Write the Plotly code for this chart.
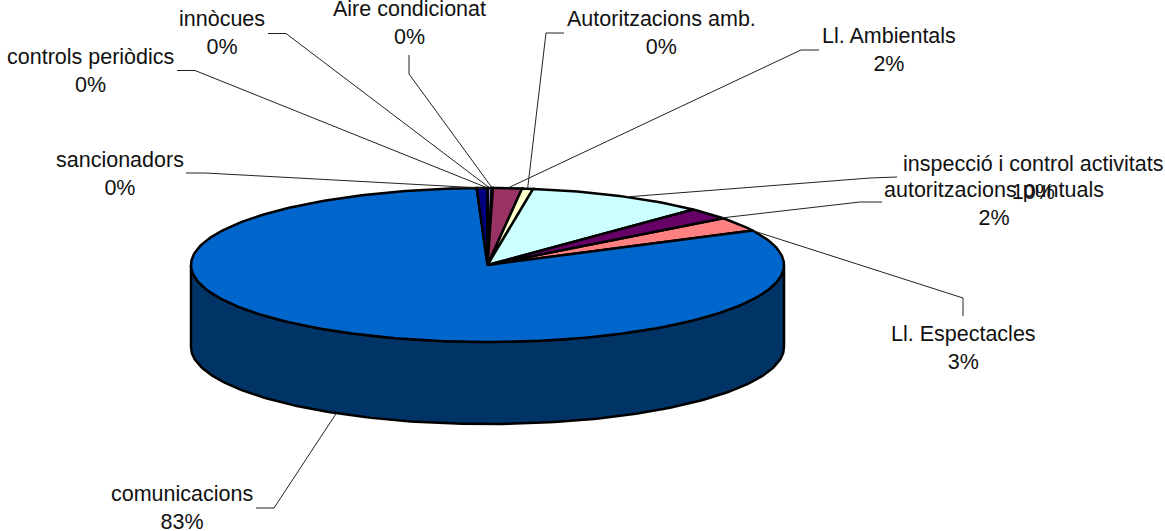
import numpy as np
import plotly.graph_objects as go

# Data (clockwise order, starting at the leading edge of "Ll. Espectacles")
categories = ["Ll. Espectacles", "comunicacions", "sancionadors", "controls periòdics", "innòcues",
              "Aire condicionat", "Ll. Ambientals", "Autoritzacions amb.",
              "inspecció i control activitats", "autoritzacions puntuals"]
values = [3.0, 81.8, 0.58, 0.02, 0.2, 0.07, 1.57, 0.6, 9.75, 2.4]
percent_labels = ["3%", "83%", "0%", "0%", "0%", "0%", "2%", "0%", "10%", "2%"]

# Style and layout
colors = ["#FF8080", "#0066CC", "#000080", "#6666CC", "#9999FF", "#3333AA",
          "#993366", "#FFFFCC", "#CCFFFF", "#660066"]
WALL = "#003366"
CX, CY, RX, RY, DEPTH = 487.5, 265, 296.5, 77, 82
ROTATION = 52.6
FONT = dict(family="Liberation Sans, Arial, sans-serif", size=21.5, color="#111111")

# label centre (x, y of first line), leader elbow points, leader anchor shift along the rim (degrees)
label_pos = [(963, 334), (182, 494), (120, 159.5), (90, 57), (222, 19),
             (409, 9), (889, 36), (661, 19), (1033, 164), (994, 190)]
leader_knee = [[(963, 316), (963, 298)], [(256, 508), (274, 508)], [(186, 173), (205, 173)],
               [(177, 70.5), (195, 70.5)], [(268, 33.5), (286, 33.5)], [(409, 55), (409, 74)],
               [(819, 50), (801, 50)], [(564, 33), (546, 33)], [(897, 177), (870, 178)],
               [(882, 202), (860, 202)]]
leader_shift = [5.5, 0.0, 0.0, 0.0, 0.0, 0.0, 0.0, 0.0, 1.5, 4.0]


def rim(t_deg, dy=0.0):
    t = np.radians(t_deg)
    return CX + RX * np.sin(t), CY - RY * np.cos(t) + dy


fig = go.Figure()

# side wall (front half of the cylinder)
front = np.linspace(90, 270, 181)
xt, yt = rim(front)
xb, yb = rim(front[::-1], DEPTH)
fig.add_trace(go.Scatter(x=np.r_[xt, xb, xt[0]], y=np.r_[yt, yb, yt[0]], mode="lines", fill="toself",
                         fillcolor=WALL, line=dict(color="black", width=2.5), hoverinfo="skip",
                         showlegend=False))

# top slices
total = sum(values)
angle = ROTATION
mids = []
for name, v, c in zip(categories, values, colors):
    sweep = 360 * v / total
    ts = np.linspace(angle, angle + sweep, max(3, int(sweep) + 2))
    x, y = rim(ts)
    fig.add_trace(go.Scatter(x=np.r_[CX, x, CX], y=np.r_[CY, y, CY], mode="lines", fill="toself",
                             fillcolor=c, line=dict(color="black", width=2.5), name=name,
                             showlegend=False))
    mids.append(angle + sweep / 2)
    angle += sweep

# leaders
for name, knee, m, s in zip(categories, leader_knee, mids, leader_shift):
    on_wall = name == "comunicacions"
    ex, ey = rim(m + s, DEPTH if on_wall else 0.0)
    xs = [knee[0][0], knee[1][0], float(ex)]
    ys = [knee[0][1], knee[1][1], float(ey)]
    fig.add_trace(go.Scatter(x=xs, y=ys, mode="lines", line=dict(color="#222222", width=1),
                             hoverinfo="skip", showlegend=False))

# labels
annotations = [dict(x=p[0], y=p[1], xref="x", yref="y", text=f"{n}<br>{l}", showarrow=False,
                    xanchor="center", yanchor="top", yshift=14, align="center", font=FONT)
               for n, l, p in zip(categories, percent_labels, label_pos)]

fig.update_layout(width=1165, height=531, margin=dict(l=0, r=0, t=0, b=0),
                  paper_bgcolor="white", plot_bgcolor="white", annotations=annotations,
                  xaxis=dict(range=[0, 1165], visible=False, fixedrange=True),
                  yaxis=dict(range=[531, 0], visible=False, fixedrange=True))

fig.write_html("out.html", config=dict(displayModeBar=False),
               post_script="document.body.style.margin='0';document.body.style.overflow='hidden';")
